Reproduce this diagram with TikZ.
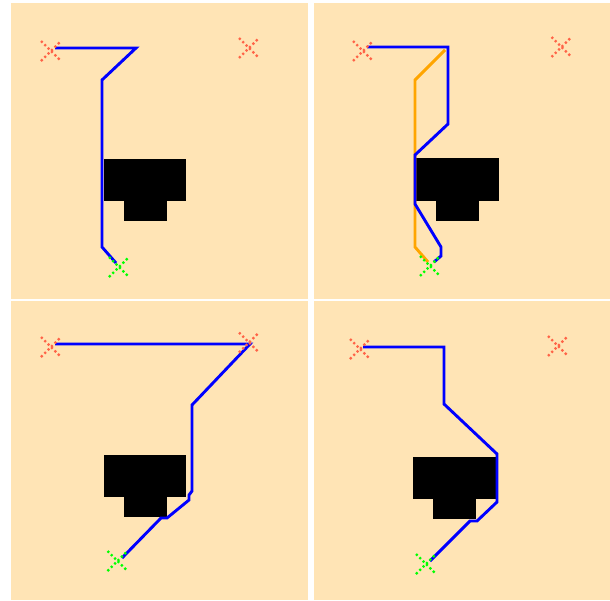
\documentclass[tikz,border=0pt]{standalone}
\definecolor{bgc}{HTML}{FFE4B5}
\definecolor{redx}{HTML}{FF6347}
\definecolor{grnx}{HTML}{00FF00}
\definecolor{pathb}{HTML}{0000FF}
\definecolor{patho}{HTML}{FFA500}
\tikzset{
  panel/.style={fill=bgc, draw=none},
  obst/.style={fill=black, draw=none},
  route/.style={draw=pathb, line width=2.9pt, line join=miter, line cap=butt},
  altroute/.style={draw=patho, line width=2.9pt, line join=miter, line cap=butt},
  xmark/.pic={\draw[pic actions] (-10,-10)--(10,10) (-10,10)--(10,-10);},
  startx/.style={draw=redx, line width=2.2pt, dash pattern=on 2.2pt off 2.6pt},
  goalx/.style={draw=grnx, line width=2.2pt, dash pattern=on 2.2pt off 2.6pt},
}
\begin{document}
\begin{tikzpicture}[x=1pt,y=-1pt]
\useasboundingbox (0,0) rectangle (610,600);
\fill[white] (0,0) rectangle (610,600);
% panels
\path[panel] (11,3) rectangle (307.7,299);
\path[panel] (313.7,3) rectangle (610,299);
\path[panel] (11,301.3) rectangle (307.7,600);
\path[panel] (313.7,301.3) rectangle (610,600);

% ---------- panel 1 ----------
\path[obst] (104,159) rectangle (186,201);
\path[obst] (124,200) rectangle (167,221);
\draw[route] (55,48) -- (136,48) -- (102,80) -- (102,247) -- (116,263);
\pic[startx] at (51,51) {xmark};
\pic[startx] at (249,48) {xmark};
\pic[goalx] at (119,267) {xmark};

% ---------- panel 2 ----------
\path[obst] (415,158) rectangle (499,201);
\path[obst] (436,200) rectangle (479,221);
\draw[altroute] (445,50) -- (415,80) -- (415,247) -- (428,262);
\draw[route] (367,47) -- (448,47) -- (448,124) -- (415,155) -- (415,204) -- (441,247) -- (441,256) -- (434,262);
\pic[startx] at (363,51) {xmark};
\pic[startx] at (561.5,47) {xmark};
\pic[goalx] at (430,266) {xmark};

% ---------- panel 3 ----------
\path[obst] (104,454.5) rectangle (186,497);
\path[obst] (124,496) rectangle (167,517);
\draw[route] (55,344) -- (250,344) -- (192,405) -- (192,491) -- (189,495) -- (189,500) -- (167,518) -- (161,518) -- (122,558);
\pic[startx] at (51,347) {xmark};
\pic[startx] at (249,342.5) {xmark};
\pic[goalx] at (117.5,561) {xmark};

% ---------- panel 4 ----------
\path[obst] (413,457) rectangle (497,499);
\path[obst] (433,498) rectangle (476,519);
\draw[route] (363,347) -- (444,347) -- (444,404) -- (497,454) -- (497,502) -- (477,521) -- (470,521) -- (430,561);
\pic[startx] at (360,349) {xmark};
\pic[startx] at (558,346) {xmark};
\pic[goalx] at (426,564) {xmark};
\end{tikzpicture}
\end{document}
